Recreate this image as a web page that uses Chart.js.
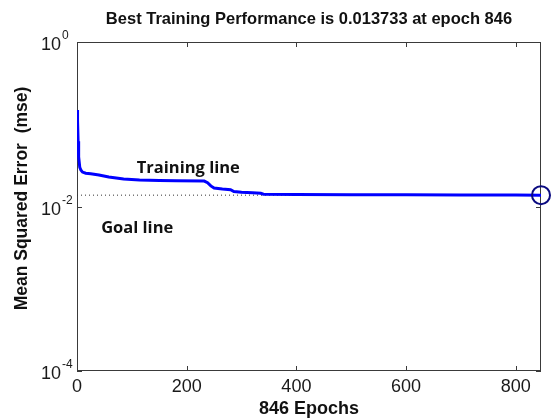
<!DOCTYPE html>
<html>
<head>
<meta charset="utf-8">
<script src="https://cdn.jsdelivr.net/npm/chart.js@4.4.0/dist/chart.umd.min.js"></script>
<style>
  html, body { margin: 0; padding: 0; background: #ffffff; }
  #wrap { width: 552px; height: 418px; }
</style>
</head>
<body>
<div id="wrap"><canvas id="perf" width="552" height="418"></canvas></div>
<script>
// Training record: epoch numbers and mean squared error at each recorded epoch
const epochs = [0, 1, 2, 3, 5, 7, 10, 16, 25, 40, 58, 85, 114, 150, 181, 232, 238, 244, 250, 265, 280, 286, 300, 320, 335, 340, 400, 500, 600, 700, 800, 846];
const trainMse = [0.149, 0.110, 0.062, 0.040, 0.030, 0.0278, 0.0262, 0.0254, 0.0250, 0.0242, 0.0228, 0.0216, 0.0210, 0.0207, 0.0205, 0.0204, 0.0195, 0.0178, 0.0168, 0.0163, 0.0160, 0.0152, 0.0149, 0.0147, 0.0145, 0.0141, 0.0140, 0.01392, 0.01386, 0.0138, 0.01376, 0.013733];

const bestEpoch = 846;
const bestMse = 0.013733;

const xTicks = [0, 200, 400, 600, 800];
const yTicks = [1, 0.01, 0.0001];
const yTickBase = '10';
const yTickExponents = ['0', '-2', '-4'];

const titleText = 'Best Training Performance is ' + bestMse + ' at epoch ' + bestEpoch;
const xTitle = bestEpoch + ' Epochs';
const yTitle = 'Mean Squared Error  (mse)';

const noteTexts = ['Training line', 'Goal line'];
const noteEpochs = [109, 44];
const noteMse = [0.0255, 0.00476];

const SANS = '"Liberation Sans", Arial, Helvetica, sans-serif';
const NOTE_FONT = '"Open Sans", "Noto Sans", sans-serif';

const axesDecor = {
  id: 'axesDecor',
  beforeDatasetsDraw(chart) {
    const { ctx, chartArea: a, scales: { x, y } } = chart;
    ctx.save();
    ctx.strokeStyle = '#3a3a3a';
    ctx.lineWidth = 1;
    ctx.strokeRect(a.left + 0.5, a.top + 0.5, a.right - a.left - 1, a.bottom - a.top - 1);
    ctx.beginPath();
    xTicks.forEach(v => {
      const px = Math.round(x.getPixelForValue(v)) + 0.5;
      ctx.moveTo(px, a.bottom); ctx.lineTo(px, a.bottom - 5);
      ctx.moveTo(px, a.top); ctx.lineTo(px, a.top + 5);
    });
    yTicks.forEach(v => {
      const py = Math.round(y.getPixelForValue(v)) + 0.5;
      ctx.moveTo(a.left, py); ctx.lineTo(a.left + 5, py);
      ctx.moveTo(a.right, py); ctx.lineTo(a.right - 5, py);
    });
    ctx.stroke();
    ctx.restore();
  },
  afterDraw(chart) {
    const { ctx, chartArea: a, scales: { x, y } } = chart;
    ctx.save();
    ctx.fillStyle = '#1a1a1a';
    // log-axis labels written as powers of ten
    yTicks.forEach((v, i) => {
      const py = y.getPixelForValue(v);
      ctx.font = '18px ' + SANS;
      ctx.textAlign = 'right';
      ctx.textBaseline = 'alphabetic';
      ctx.fillText(yTickBase, a.left - 16, py + 8);
      ctx.font = '12px ' + SANS;
      ctx.textAlign = 'left';
      ctx.fillText(yTickExponents[i], a.left - 15, py - 3);
    });
    // vertical axis title
    ctx.font = 'bold 17.5px ' + SANS;
    ctx.fillStyle = '#111';
    ctx.textAlign = 'center';
    ctx.textBaseline = 'middle';
    ctx.translate(22, (a.top + a.bottom) / 2 - 8);
    ctx.rotate(-Math.PI / 2);
    ctx.fillText(yTitle, 0, 0);
    ctx.restore();

    // in-plot notes
    ctx.save();
    ctx.font = 'bold 16.5px ' + NOTE_FONT;
    ctx.fillStyle = '#111';
    ctx.textAlign = 'left';
    ctx.textBaseline = 'alphabetic';
    noteTexts.forEach((t, i) => {
      ctx.fillText(t, x.getPixelForValue(noteEpochs[i]), y.getPixelForValue(noteMse[i]));
    });
    ctx.restore();
  }
};

const trainPoints = epochs.map((e, i) => ({ x: e, y: trainMse[i] }));

new Chart(document.getElementById('perf'), {
  type: 'line',
  data: {
    datasets: [
      {
        label: 'Best',
        data: [{ x: bestEpoch, y: bestMse }],
        showLine: false,
        pointRadius: 9,
        pointBorderWidth: 2,
        pointBorderColor: '#0a0a80',
        pointBackgroundColor: 'rgba(0,0,0,0)',
        clip: false
      },
      {
        label: 'Train',
        data: trainPoints,
        borderColor: '#0000ff',
        borderWidth: 3,
        pointRadius: 0,
        tension: 0,
        fill: false
      },
      {
        label: 'Goal',
        data: [{ x: 0, y: bestMse }, { x: bestEpoch, y: bestMse }],
        borderColor: '#333333',
        borderWidth: 1,
        borderDash: [1, 3],
        pointRadius: 0,
        fill: false
      }
    ]
  },
  options: {
    responsive: false,
    animation: false,
    events: [],
    layout: { padding: { left: 0, right: 9, top: 0, bottom: 0 } },
    plugins: {
      legend: { display: false },
      tooltip: { enabled: false },
      title: {
        display: true,
        text: titleText,
        fullSize: false,
        color: '#111',
        font: { family: SANS, size: 16.5, weight: 'bold', lineHeight: 1.2 },
        padding: { top: 10, bottom: 12.2 }
      }
    },
    scales: {
      x: {
        type: 'linear',
        min: 0,
        max: bestEpoch,
        afterBuildTicks: s => { s.ticks = xTicks.map(v => ({ value: v })); },
        afterFit: s => { s.height = 47; },
        grid: { display: false, drawTicks: false },
        border: { display: false },
        ticks: {
          font: { family: SANS, size: 18 },
          color: '#1a1a1a',
          padding: 5,
          maxRotation: 0,
          autoSkip: false
        },
        title: {
          display: true,
          text: xTitle,
          color: '#111',
          font: { family: SANS, size: 18, weight: 'bold', lineHeight: 1 },
          padding: { top: 0, bottom: 0 }
        }
      },
      y: {
        type: 'logarithmic',
        min: 0.0001,
        max: 1,
        afterBuildTicks: s => { s.ticks = yTicks.map(v => ({ value: v })); },
        afterFit: s => { s.width = 77; },
        grid: { display: false, drawTicks: false },
        border: { display: false },
        ticks: { display: false }
      }
    }
  },
  plugins: [axesDecor]
});
</script>
</body>
</html>
